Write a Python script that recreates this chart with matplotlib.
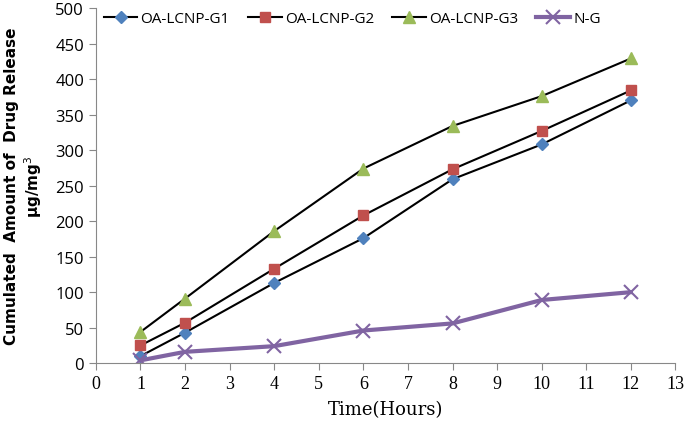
import matplotlib
matplotlib.use('Agg')
import matplotlib.pyplot as plt

# release data
hours = [1, 2, 4, 6, 8, 10, 12]
g1 = [10, 43, 113, 176, 259, 308, 370]
g2 = [25, 57, 133, 208, 273, 327, 384]
g3 = [44, 91, 186, 274, 334, 376, 429]
ng = [4, 16, 24, 46, 56, 89, 100]

fig = plt.figure(figsize=(6.85, 4.31), dpi=100)
ax = fig.add_axes([0.140, 0.155, 0.846, 0.824])

ax.plot(hours, g1, color='black', lw=1.5, marker='D', ms=6,
        mfc='#4F81BD', mec='#4F81BD', label='OA-LCNP-G1')
ax.plot(hours, g2, color='black', lw=1.5, marker='s', ms=7.5,
        mfc='#C0504D', mec='#C0504D', label='OA-LCNP-G2')
ax.plot(hours, g3, color='black', lw=1.5, marker='^', ms=8,
        mfc='#9BBB59', mec='#9BBB59', label='OA-LCNP-G3')
ax.plot(hours, ng, color='#8064A2', lw=3, marker='x', ms=10, mew=1.5,
        label='N-G')

ax.set_xlim(0, 13)
ax.set_ylim(0, 500)
ax.set_xticks(range(0, 14))
ax.set_yticks(range(0, 501, 50))

for s in ['top', 'right']:
    ax.spines[s].set_visible(False)
for s in ['left', 'bottom']:
    ax.spines[s].set_color('#888888')
ax.tick_params(axis='both', color='#888888', length=5)
ax.tick_params(axis='x', labelsize=13)
ax.tick_params(axis='y', labelsize=12)
for lab in ax.get_xticklabels():
    lab.set_family('Liberation Serif')
for lab in ax.get_yticklabels():
    lab.set_family('Open Sans')

ax.set_xlabel('Time(Hours)', fontsize=13, family='DejaVu Serif', labelpad=6)
ax.set_ylabel('Cumulated  Amount of  Drug Release\n\u03bcg/mg$^3$', fontsize=11,
              fontweight='bold', family='DejaVu Sans', labelpad=8)

ax.legend(loc='upper left', bbox_to_anchor=(-0.01, 1.03), ncol=4, frameon=False,
          prop={'family': 'Open Sans', 'size': 11}, handlelength=2.2,
          handletextpad=0.2, columnspacing=1.2)

plt.savefig('out.png', dpi=100)
plt.close()
